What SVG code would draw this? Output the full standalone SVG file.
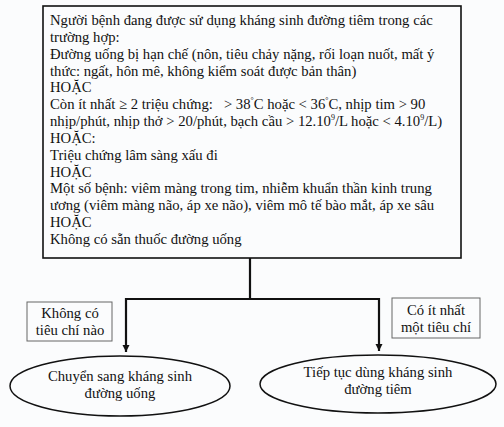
<svg xmlns="http://www.w3.org/2000/svg" width="504" height="427" viewBox="0 0 504 427">
<defs>
<marker id="arr" markerWidth="8" markerHeight="8" refX="7" refY="4" orient="auto" markerUnits="userSpaceOnUse">
<path d="M0,0.5 L7,4 L0,7.5 Z" fill="#111"/>
</marker>
<style>
text{font-family:"Liberation Serif","Times New Roman",serif;fill:#111}
.m{font-size:14.7px}
.l{font-size:14.7px;text-anchor:middle}
.box{fill:none;stroke:#111;stroke-width:1.6}
.lab{fill:none;stroke:#666;stroke-width:1}
.ell{fill:none;stroke:#111;stroke-width:1.5}
.con{fill:none;stroke:#111;stroke-width:2.2}
</style>
</defs>
<rect width="504" height="427" fill="#fbfcfd"/>
<g id="main">
<rect class="box" x="43" y="6" width="418" height="252"/>
<text class="m" x="50">
<tspan x="50" y="25">Người bệnh đang được sử dụng kháng sinh đường tiêm trong các</tspan>
<tspan x="50" y="42">trường hợp:</tspan>
<tspan x="50" y="59">Đường uống bị hạn chế (nôn, tiêu chảy nặng, rối loạn nuốt, mất ý</tspan>
<tspan x="50" y="76">thức: ngất, hôn mê, không kiểm soát được bản thân)</tspan>
<tspan x="50" y="92">HOẶC</tspan>
<tspan x="50" y="109">Còn ít nhất ≥ 2 triệu chứng:</tspan><tspan dx="11">&gt; 38</tspan><tspan font-size="8" dy="-6">°</tspan><tspan dy="6">C hoặc &lt; 36</tspan><tspan font-size="8" dy="-6">°</tspan><tspan dy="6">C, nhịp tim &gt; 90</tspan>
<tspan x="50" y="126">nhịp/phút, nhịp thở &gt; 20/phút, bạch cầu &gt; 12.10</tspan><tspan font-size="8" dy="-6">9</tspan><tspan dy="6">/L hoặc &lt; 4.10</tspan><tspan font-size="8" dy="-6">9</tspan><tspan dy="6">/L)</tspan>
<tspan x="50" y="143">HOẶC:</tspan>
<tspan x="50" y="160">Triệu chứng lâm sàng xấu đi</tspan>
<tspan x="50" y="177">HOẶC</tspan>
<tspan x="50" y="193">Một số bệnh: viêm màng trong tim, nhiễm khuẩn thần kinh trung</tspan>
<tspan x="50" y="210">ương (viêm màng não, áp xe não), viêm mô tế bào mắt, áp xe sâu</tspan>
<tspan x="50" y="227">HOẶC</tspan>
<tspan x="50" y="244">Không có sẵn thuốc đường uống</tspan>
</text>
</g>
<g id="connectors">
<path class="con" d="M250,258 V299 M126,299 H379"/>
<path class="con" d="M126,298 V352" marker-end="url(#arr)"/>
<path class="con" d="M379,298 V351" marker-end="url(#arr)"/>
</g>
<g id="label-none">
<rect class="lab" x="27" y="302" width="85" height="39"/>
<text class="l" x="70" y="318">Không có</text>
<text class="l" x="70" y="335">tiêu chí nào</text>
</g>
<g id="label-some">
<rect class="lab" x="392" y="298" width="88" height="40"/>
<text class="l" x="436" y="315">Có ít nhất</text>
<text class="l" x="436" y="332">một tiêu chí</text>
</g>
<g id="oral">
<ellipse class="ell" cx="120" cy="386" rx="110" ry="30"/>
<text class="l" x="120" y="381">Chuyển sang kháng sinh</text>
<text class="l" x="120" y="398">đường uống</text>
</g>
<g id="iv">
<ellipse class="ell" cx="378" cy="384" rx="118" ry="29"/>
<text class="l" x="378" y="377">Tiếp tục dùng kháng sinh</text>
<text class="l" x="378" y="394">đường tiêm</text>
</g>
</svg>
